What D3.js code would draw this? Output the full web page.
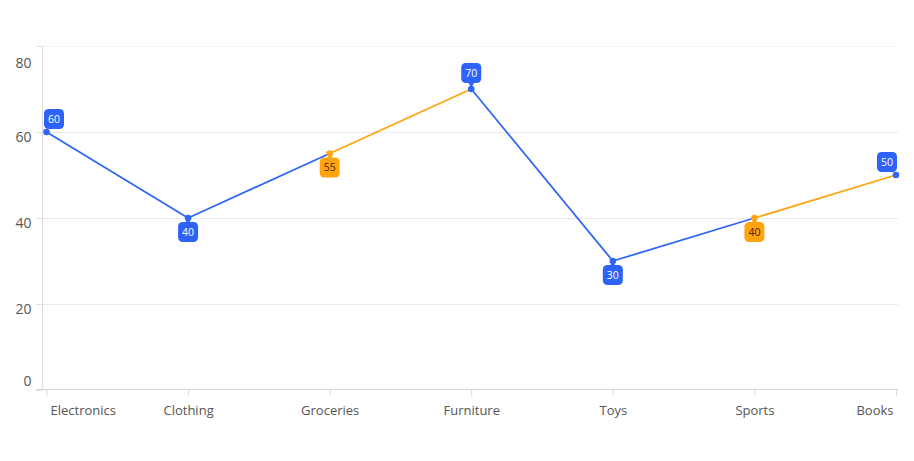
<!DOCTYPE html>
<html><head><meta charset="utf-8">
<script src="https://cdn.jsdelivr.net/npm/d3@7"></script>
<style>
html,body{margin:0;padding:0;background:#fff;}
text{font-family:"Open Sans","Noto Sans",sans-serif;}
</style></head>
<body><svg id="c" width="914" height="461"></svg>
<script>
const categories = ["Electronics","Clothing","Groceries","Furniture","Toys","Sports","Books"];
const values = [60,40,55,70,30,40,50];
const highlighted = [false,false,true,false,false,true,false];
const yTicks = [0,20,40,60,80];

(function(){
const BLUE = "#2f66f6", BLUE_LBL = "#2d63f8", ORANGE = "#ffa30f";
const svg = d3.select("#c");
const pl = 42, pr = 898, pt = 46, pb = 390;
const x = d3.scalePoint().domain(categories).range([46.5, 896]);
const y = d3.scaleLinear().domain([0,80]).range([pb, pt]);

// gridlines
svg.append("g").selectAll("line").data(yTicks.filter(d=>d>0)).join("line")
  .attr("x1", pl).attr("x2", pr)
  .attr("y1", d=>y(d)+0.5).attr("y2", d=>y(d)+0.5)
  .attr("stroke", d=> d===80 ? "#f6f6f8" : "#ebe9ee").attr("stroke-width",1);

// y axis
const ya = svg.append("g").attr("transform", `translate(${pl+0.5},0)`)
  .call(d3.axisLeft(y).tickValues(yTicks).tickSize(6).tickPadding(5));
ya.select(".domain").attr("stroke","#dcdbe0").attr("d",`M0,${pt}V${pb}`);
ya.selectAll(".tick line").attr("stroke","#dcdbe0");
ya.selectAll(".tick text").attr("fill","#555").attr("font-size","14px")
  .attr("dy", null)
  .attr("y", d => Math.max(pt+16, Math.min(pb-10, y(d)+4)) - y(d) + 5);

// x axis
const xa = svg.append("g").attr("transform", `translate(0,${pb-0.5})`)
  .call(d3.axisBottom(x).tickSize(6).tickPadding(10));
xa.select(".domain").attr("stroke","#d6d5da").attr("d",`M36,0H${pr}`);
xa.selectAll(".tick line").attr("stroke","#d6d5da");
xa.selectAll(".tick text").attr("fill","#555").attr("font-size","13px")
  .each(function(d){
    const w = this.getComputedTextLength();
    const cx = x(d);
    const c = Math.max(50 + w/2, Math.min(893 - w/2, cx));
    d3.select(this).attr("x", c - cx);
  });

// line segments colored by start point
const pts = categories.map((c,i)=>({c, v:values[i], h:highlighted[i], i}));
svg.append("g").selectAll("line").data(pts.slice(0,-1)).join("line")
  .attr("x1", d=>x(d.c)).attr("y1", d=>y(d.v))
  .attr("x2", d=>x(pts[d.i+1].c)).attr("y2", d=>y(pts[d.i+1].v))
  .attr("stroke", d=> d.h ? ORANGE : BLUE).attr("stroke-width",1.8);

// points
svg.append("g").selectAll("circle").data(pts).join("circle")
  .attr("cx", d=>x(d.c)).attr("cy", d=>y(d.v)).attr("r",3.3)
  .attr("fill", d=> d.h ? ORANGE : BLUE);

// labels (callouts)
const bw = 20, bh = 20, r = 4.5;
const lg = svg.append("g");
pts.forEach((d,i)=>{
  const px = x(d.c), py = y(d.v);
  const above = !d.h && (i===0 || d.v > values[i-1]);
  const cx = Math.max(pl + 2 + bw/2, Math.min(pr - 1 - bw/2, px));
  const clamped = Math.abs(cx-px) >= 2;
  const gap = clamped ? 3 : 6;
  const by = above ? py - gap - bh : py + 4;
  const col = d.h ? ORANGE : BLUE_LBL;
  lg.append("rect").attr("x", cx-bw/2).attr("y", by).attr("width",bw).attr("height",bh)
    .attr("rx",r).attr("fill",col);
  if (!clamped) {
    const ty = above ? by+bh-1 : by+1;
    lg.append("path").attr("d", `M${px-3.5},${ty}L${px},${above?py-1.5:py+1.5}L${px+3.5},${ty}Z`).attr("fill",col);
  }
  lg.append("text").attr("x",cx).attr("y",by+bh/2+3.7).attr("text-anchor","middle")
    .attr("font-size","10.5px").attr("fill", d.h ? "#3a2a00" : "#fff").text(d.v);
});
})();
</script></body></html>
